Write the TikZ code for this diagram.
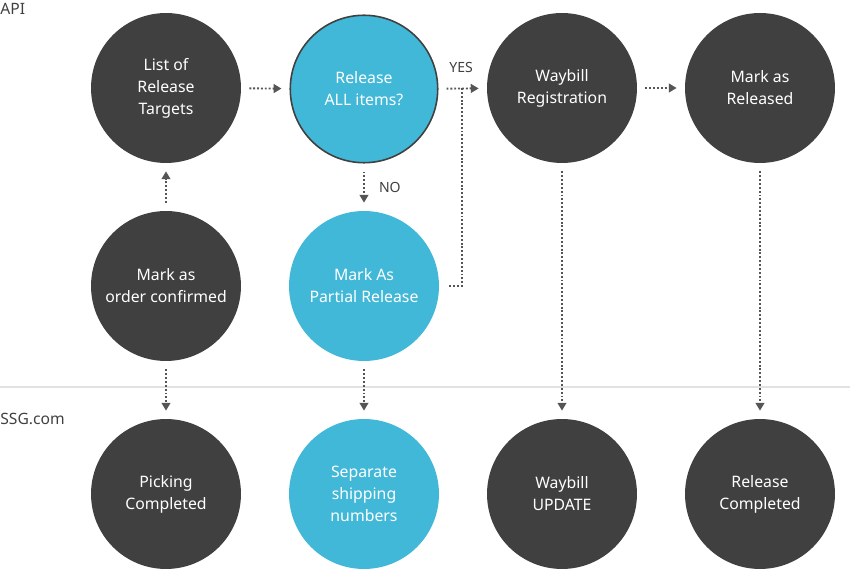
\documentclass[tikz,border=0pt]{standalone}
\usepackage{fontspec}
\setmainfont{Noto Sans}
\usetikzlibrary{arrows.meta}

\definecolor{darkfill}{HTML}{404040}
\definecolor{bluefill}{HTML}{41B8D8}
\definecolor{linegray}{HTML}{555555}
\definecolor{sepgray}{HTML}{E2E2E2}

\begin{document}
\begin{tikzpicture}[x=0.02cm,y=-0.02cm]

    \useasboundingbox (0,0) rectangle (850,570);
    \draw[sepgray,line width=0.6pt] (0,387) -- (850,387);

    \node[anchor=west,inner sep=0,text=darkfill,font=\fontsize{8.9}{10}\selectfont] (api) at (0,9) {API};
    \node[anchor=west,inner sep=0,text=darkfill,font=\fontsize{8.9}{10}\selectfont] (ssg) at (0,419) {SSG.com};

    \begin{scope}[every node/.style={circle,fill=darkfill,text=white,minimum size=3cm,inner sep=0,align=center,font=\fontsize{9}{12.5}\selectfont}]
        \node (1) at (166,88) {List of\\Release\\Targets};
        \node[fill=bluefill,draw=darkfill,line width=0.9pt,minimum size=2.95cm] (2) at (364,89) {Release\\ALL items?};
        \node (3) at (562,88) {Waybill\\Registration};
        \node (4) at (760,88) {Mark as\\Released};
        \node (7) at (166,286) {Mark as\\order confirmed};
        \node[fill=bluefill] (6) at (364,286) {Mark As\\Partial Release};
        \node (10) at (166,494) {Picking\\Completed};
        \node[fill=bluefill] (11) at (364,494) {Separate\\shipping\\numbers};
        \node (12) at (562,494) {Waybill\\UPDATE};
        \node (13) at (760,494) {Release\\Completed};
    \end{scope}

    \coordinate (j) at (462,88);

    \begin{scope}[every node/.style={text=darkfill,inner sep=0,font=\fontsize{8}{9}\selectfont},
                  every edge/.style={draw=linegray,line width=1.1pt,dash pattern=on 1.1pt off 1.1pt,shorten <=0.16cm,shorten >=0.16cm}]
        \path [-{Triangle[length=4.5pt,width=5pt]}] (1) edge (2);
        \path [-{Triangle[length=4.5pt,width=5pt]}] (2) edge node[pos=0.47,above=8.5pt] {YES} (3);
        \path [-{Triangle[length=4.5pt,width=5pt]}] (3) edge (4);
        \path [-{Triangle[length=4.5pt,width=5pt]}] (2) edge node[right=8pt] {NO} (6);
        \path [-{Triangle[length=4.5pt,width=5pt]}] (7) edge (1);
        \path [-{Triangle[length=4.5pt,width=5pt]}] (7) edge (10);
        \path [-{Triangle[length=4.5pt,width=5pt]}] (6) edge (11);
        \path [-{Triangle[length=4.5pt,width=5pt]}] (3) edge (12);
        \path [-{Triangle[length=4.5pt,width=5pt]}] (4) edge (13);
        \draw [draw=linegray,line width=1.1pt,dash pattern=on 1.1pt off 1.1pt,shorten <=0.2cm] (6) -| (j);
    \end{scope}

\end{tikzpicture}
\end{document}
